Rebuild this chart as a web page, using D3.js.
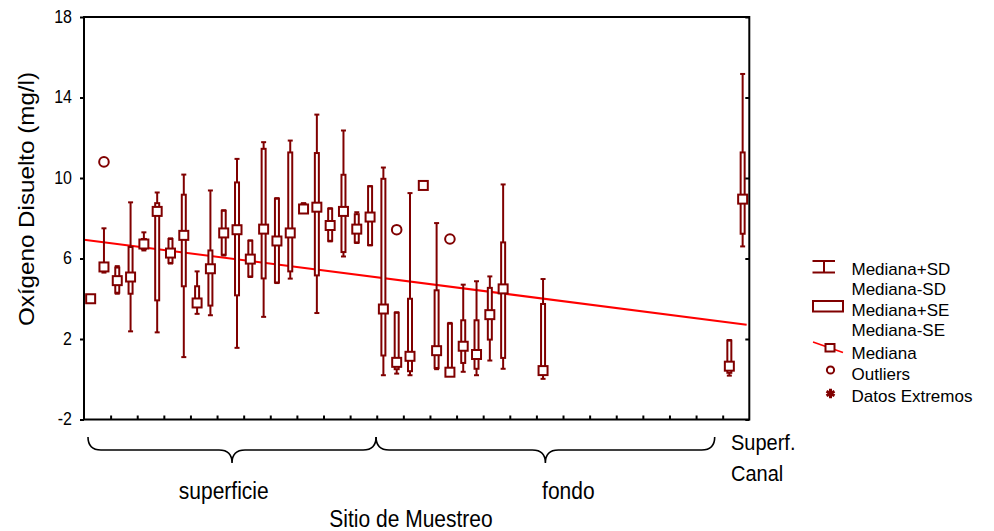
<!DOCTYPE html>
<html>
<head>
<meta charset="utf-8">
<script src="https://cdn.jsdelivr.net/npm/d3@7"></script>
<style>
  html, body { margin: 0; padding: 0; background: #fff; }
  svg { display: block; font-family: "Liberation Sans", Arial, sans-serif; }
</style>
</head>
<body>
<svg id="chart" width="994" height="531"></svg>
<script>
// ---------------- DATA ----------------
const categories = ["1","2","3","4","5","6","7","8","9","10","11","12","13","14","15","16","17","18","19","20",
  "21","22","23","24","25","26","27","28","29","30","31","32","33","34","35","36","37","38","39","40",
  "41","42","43","44","45","46","47","48","49","50"];
const medians = [4.0, 5.58, 4.9, 5.08, 6.72, 8.34, 6.27, 7.15, 3.79, 5.49,
  7.27, 7.43, 5.97, 7.46, 6.87, 7.27, 8.46, 8.55, 7.64, 8.34,
  7.46, 8.06, 3.49, 0.84, 1.14, 9.63, 1.42, 0.35, 1.64, 1.23,
  3.21, 4.49, null, null, 0.43, null, null, null, null, null,
  null, null, null, null, null, null, null, null, 0.65, 8.95];
const seLow = [null, 5.45, 4.3, 4.25, 6.47, 3.92, 5.78, 4.62, 3.62, 3.66,
  6.19, 4.17, 5.11, 5.01, 4.81, 5.36, 8.26, 5.16, 6.88, 6.32,
  6.8, 6.67, 1.18, 0.5, 0.4, null, 0.56, 0.2, 0.81, 0.52,
  1.97, 1.06, null, null, 0.3, null, null, null, null, null,
  null, null, null, null, null, null, null, null, 0.32, 7.23];
const seHigh = [null, 5.75, 5.55, 6.57, 6.97, 8.75, 6.97, 9.17, 4.62, 6.4,
  8.37, 9.78, 6.88, 11.45, 8.97, 11.27, 8.72, 11.24, 8.47, 10.16,
  8.2, 9.58, 9.96, 3.3, 4.0, null, 4.42, 2.76, 2.93, 2.93,
  4.54, 6.8, null, null, 3.74, null, null, null, null, null,
  null, null, null, null, null, null, null, null, 1.92, 11.27];
const sdLow = [null, 5.3, 4.25, 2.38, 6.4, 2.33, 5.75, 1.1, 3.25, 3.18,
  6.15, 1.56, 5.08, 3.1, 4.78, 5.0, 8.26, 3.29, 6.85, 6.1,
  6.77, 6.65, 0.2, 0.28, 0.2, null, 0.5, 0.2, 0.37, 0.2,
  0.93, 0.52, null, null, 0.02, null, null, null, null, null,
  null, null, null, null, null, null, null, null, 0.18, 6.6];
const sdHigh = [null, 7.5, 5.62, 8.79, 7.3, 9.28, 7.0, 10.17, 5.36, 9.38,
  8.4, 10.95, 6.9, 11.78, 9.0, 11.86, 8.75, 13.15, 8.5, 12.36,
  8.3, 9.6, 10.52, 3.33, 9.25, null, 7.76, 2.8, 4.7, 4.87,
  5.11, 9.68, null, null, 4.98, null, null, null, null, null,
  null, null, null, null, null, null, null, null, 1.95, 15.17];
const outlierSites = ["2", "24", "28"];
const outlierValues = [10.8, 7.43, 6.97];
// fitted trend line of medians (two end points, in category-index units)
const trendIndex = [-0.5, 49.3];
const trendValue = [6.93, 2.71];
const yTicks = [-2, 2, 6, 10, 14, 18];
const groupLabels = ["superficie", "fondo"];
const groupFrom = [-0.2, 21.45];
const groupTo = [21.45, 46.9];
const groupLabelAt = [10.0, 35.9];
const canalLabel = ["Superf.", "Canal"];
const legendLabels = ["Mediana+SD", "Mediana-SD", "Mediana+SE", "Mediana-SE", "Mediana", "Outliers", "Datos Extremos"];

// ---------------- LAYOUT ----------------
const DR = "#800000", RED = "#ff0000";
const SY = 1.1; // vertical stretch of text as in reference
const L = 84, R = 749.3, T = 17, B = 419.5;
const svg = d3.select("#chart");

const x = d3.scalePoint().domain(categories).range([L, R]).padding(0.5);
const xi = d3.scaleLinear().domain([-0.5, categories.length - 0.5]).range([L, R]);
const y = d3.scaleLinear().domain([-2, 18]).range([B, T]);

function txt(g, px, py, s, size, anchor, rot, sy) {
  const k = sy == null ? SY : sy;
  const t = g.append("text")
    .attr("transform", `translate(${px},${py}) scale(1,${k})` + (rot ? ` rotate(${rot})` : ""))
    .attr("font-size", size)
    .attr("text-anchor", anchor || "start")
    .attr("fill", "#000")
    .text(s);
  return t;
}

// ---------------- TREND LINE ----------------
svg.append("line")
  .attr("x1", xi(trendIndex[0])).attr("y1", y(trendValue[0]))
  .attr("x2", xi(trendIndex[1])).attr("y2", y(trendValue[1]))
  .attr("stroke", RED).attr("stroke-width", 2);

// ---------------- BOXES ----------------
const g = svg.append("g");
const capW = 5, boxW = 4, sq = 9;
categories.forEach((c, i) => {
  const cx = x(c);
  if (sdLow[i] != null) {
    g.append("line").attr("x1", cx).attr("x2", cx)
      .attr("y1", y(sdLow[i])).attr("y2", y(sdHigh[i]))
      .attr("stroke", DR).attr("stroke-width", 2);
    [sdLow[i], sdHigh[i]].forEach(v => {
      g.append("line").attr("x1", cx - capW / 2).attr("x2", cx + capW / 2)
        .attr("y1", y(v)).attr("y2", y(v))
        .attr("stroke", DR).attr("stroke-width", 2);
    });
  }
  if (seLow[i] != null) {
    g.append("rect").attr("x", cx - boxW / 2).attr("width", boxW)
      .attr("y", y(seHigh[i])).attr("height", y(seLow[i]) - y(seHigh[i]))
      .attr("fill", "#fff").attr("stroke", DR).attr("stroke-width", 2);
  }
  if (medians[i] != null) {
    g.append("rect").attr("x", cx - sq / 2).attr("width", sq)
      .attr("y", y(medians[i]) - sq / 2).attr("height", sq)
      .attr("fill", "#fff").attr("stroke", DR).attr("stroke-width", 2);
  }
});
outlierSites.forEach((c, k) => {
  g.append("circle").attr("cx", x(c)).attr("cy", y(outlierValues[k])).attr("r", 4.8)
    .attr("fill", "none").attr("stroke", DR).attr("stroke-width", 2);
});

// ---------------- AXES / FRAME ----------------
const axL = svg.append("g").attr("transform", `translate(${L},0)`)
  .call(d3.axisLeft(y).tickValues(yTicks).tickSize(4).tickPadding(8).tickFormat(d => String(d)));
axL.select(".domain").remove();
axL.selectAll("line").attr("stroke", "#000").attr("stroke-width", 2);
axL.selectAll("text").attr("font-size", 16).attr("fill", "#000")
  .attr("font-family", "Liberation Sans, Arial, sans-serif")
  .attr("transform", `scale(1,${SY})`).attr("dy", "0.30em");

const axR = svg.append("g").attr("transform", `translate(${R},0)`)
  .call(d3.axisRight(y).tickValues(yTicks).tickSize(-4).tickFormat(""));
axR.select(".domain").remove();
axR.selectAll("line").attr("stroke", "#000").attr("stroke-width", 2);

const axB = svg.append("g").attr("transform", `translate(0,${B})`)
  .call(d3.axisBottom(xi).tickValues(d3.range(1.5, categories.length - 1, 2)).tickSize(-4).tickFormat(""));
axB.select(".domain").remove();
axB.selectAll("line").attr("stroke", "#000").attr("stroke-width", 2);

svg.append("rect").attr("x", L).attr("y", T).attr("width", R - L).attr("height", B - T)
  .attr("fill", "none").attr("stroke", "#000").attr("stroke-width", 2);

// ---------------- BRACES ----------------
function bracePath(x1, x2, y0, r) {
  const m = (x1 + x2) / 2;
  return `M${x1},${y0} Q${x1},${y0 + r} ${x1 + r},${y0 + r} L${m - r},${y0 + r} ` +
         `Q${m},${y0 + r} ${m},${y0 + 2 * r} Q${m},${y0 + r} ${m + r},${y0 + r} ` +
         `L${x2 - r},${y0 + r} Q${x2},${y0 + r} ${x2},${y0}`;
}
groupLabels.forEach((lab, k) => {
  svg.append("path").attr("d", bracePath(xi(groupFrom[k]), xi(groupTo[k]), 437, 13))
    .attr("fill", "none").attr("stroke", "#000").attr("stroke-width", 1.6);
  txt(svg, xi(groupLabelAt[k]), 499, lab, 21, "middle");
});
txt(svg, 731, 450, canalLabel[0], 20, "start");
txt(svg, 731, 481, canalLabel[1], 20, "start");

// ---------------- AXIS TITLES ----------------
txt(svg, 440, 527, "Sitio de Muestreo", 21, "middle").attr("transform", `translate(411,527) scale(1,${SY})`);
txt(svg, 34, 199, "Oxígeno Disuelto (mg/l)", 22, "middle", -90);

// ---------------- LEGEND ----------------
const lg = svg.append("g");
const lx = 851.5;
const rows = [275, 294.5, 316, 336, 358.5, 380, 401.5];
legendLabels.forEach((s, k) => txt(lg, lx, rows[k], s, 17, "start", null, 1.0));
// SD symbol
[261, 272.5].forEach(v => lg.append("line").attr("x1", 812.5).attr("x2", 835).attr("y1", v).attr("y2", v)
  .attr("stroke", DR).attr("stroke-width", 2));
lg.append("line").attr("x1", 824).attr("x2", 824).attr("y1", 261).attr("y2", 272.5)
  .attr("stroke", DR).attr("stroke-width", 2);
// SE symbol
lg.append("rect").attr("x", 813).attr("y", 301).attr("width", 30).attr("height", 10.5)
  .attr("fill", "#fff").attr("stroke", DR).attr("stroke-width", 2);
// Median symbol
lg.append("line").attr("x1", 813).attr("y1", 342).attr("x2", 843).attr("y2", 352.5)
  .attr("stroke", RED).attr("stroke-width", 1.6);
lg.append("rect").attr("x", 825.5).attr("y", 344).attr("width", 9).attr("height", 7.5)
  .attr("fill", "#fff").attr("stroke", DR).attr("stroke-width", 2);
// Outlier symbol
lg.append("circle").attr("cx", 830.5).attr("cy", 370).attr("r", 3.6)
  .attr("fill", "none").attr("stroke", DR).attr("stroke-width", 2);
// Extreme symbol
lg.append("path").attr("transform", "translate(830.5,393.5)")
  .attr("d", d3.symbol(d3.symbolAsterisk, 60)())
  .attr("fill", "none").attr("stroke", DR).attr("stroke-width", 3);
</script>
</body>
</html>
